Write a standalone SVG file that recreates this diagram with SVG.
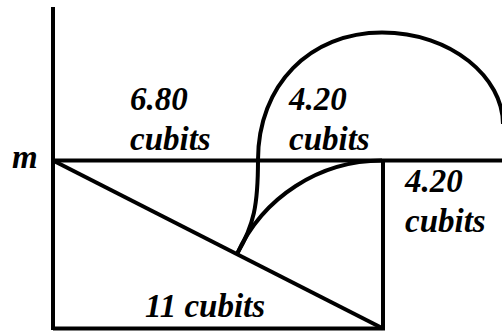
<svg xmlns="http://www.w3.org/2000/svg" width="502" height="332" viewBox="0 0 502 332">
<style>
.ln{fill:none;stroke:#000;stroke-width:4;stroke-linecap:butt;stroke-linejoin:miter}
.lb{font-family:'Liberation Serif','Times New Roman',serif;font-weight:700;font-style:italic;font-size:33px;fill:#000}
</style>
<rect width="502" height="332" fill="#fff"/>
<g id="lines">
<line class="ln" x1="53" y1="7" x2="53" y2="330"/>
<line class="ln" x1="51" y1="160.5" x2="502" y2="160.5"/>
<polyline class="ln" points="53,328.5 383,328.5 383,160.5"/>
<line class="ln" x1="53" y1="160.5" x2="383" y2="328.5"/>
</g>
<g id="arcs">
<path class="ln" d="M237,254 C254,225 258,205 258,160 C258,85 310,32.5 382,32.5 C452,32.5 503,78 503,124"/>
<path class="ln" d="M237,254 A159.5 159.5 0 0 1 382,160.5"/>
</g>
<g id="labels">
<text class="lb" x="130" y="110">6.80</text>
<text class="lb" x="130" y="150">cubits</text>
<text class="lb" x="289" y="110">4.20</text>
<text class="lb" x="289" y="150">cubits</text>
<text class="lb" x="405" y="191.5">4.20</text>
<text class="lb" x="405" y="231.5">cubits</text>
<text class="lb" x="12" y="168">m</text>
<text class="lb" x="145" y="316.5">11 cubits</text>
</g>
</svg>
